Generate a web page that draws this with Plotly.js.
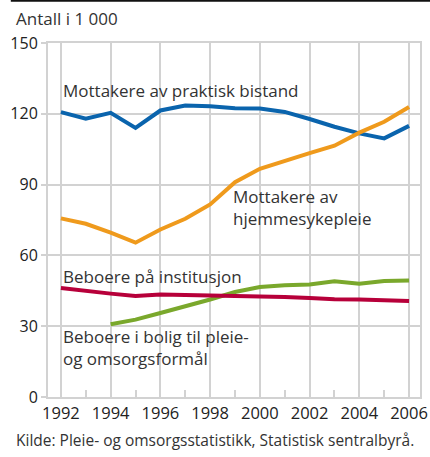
<!DOCTYPE html>
<html><head><meta charset="utf-8">
<script src="https://cdn.plot.ly/plotly-3.0.1.min.js"></script>
<style>html,body{margin:0;padding:0;background:#fff;}#chart{width:430px;height:457px;}</style>
</head><body><div id="chart"></div>
<script>
const years = [1992,1993,1994,1995,1996,1997,1998,1999,2000,2001,2002,2003,2004,2005,2006];
const praktiskBistand = [120.7,117.9,120.4,114.0,121.4,123.5,123.2,122.4,122.2,120.8,117.8,114.5,111.7,109.6,114.9];
const hjemmesykepleie = [75.7,73.4,69.6,65.4,71.0,75.5,81.6,91.0,96.7,99.8,103.3,106.5,112.0,116.6,122.9];
const institusjon = [46.2,44.9,43.8,42.8,43.4,43.2,43.0,43.1,42.8,42.4,42.0,41.4,41.3,41.0,40.7];
const boligYears = [1994,1995,1996,1997,1998,1999,2000,2001,2002,2003,2004,2005,2006];
const bolig = [30.8,32.8,35.6,38.4,41.3,44.5,46.6,47.3,47.7,49.0,48.0,49.2,49.4];
const seriesNames = ["Mottakere av praktisk bistand","Mottakere av hjemmesykepleie","Beboere på institusjon","Beboere i bolig til pleie- og omsorgsformål"];
const yTicks = [0,30,60,90,120,150];
const xTicks = [1992,1994,1996,1998,2000,2002,2004,2006];

const font = "'Open Sans', 'DejaVu Sans', sans-serif";
const grid = "#d2d2d2";
const lw = 4;
const traces = [
  {x: years, y: praktiskBistand, name: seriesNames[0], mode: "lines", line: {color: "#0a64ad", width: lw}},
  {x: years, y: hjemmesykepleie, name: seriesNames[1], mode: "lines", line: {color: "#ef9a1c", width: lw}},
  {x: boligYears, y: bolig, name: seriesNames[3], mode: "lines", line: {color: "#7aa82c", width: lw}},
  {x: years, y: institusjon, name: seriesNames[2], mode: "lines", line: {color: "#b7003a", width: lw}}
];
const annFont = {family: font, size: 17, color: "#333"};
const layout = {
  width: 430, height: 457,
  margin: {l: 48, r: 10, t: 43, b: 60},
  paper_bgcolor: "#fff", plot_bgcolor: "#fff",
  showlegend: false,
  font: {family: font, size: 16, color: "#222"},
  xaxis: {
    range: [1991.48, 2006.44], tickvals: xTicks, ticktext: xTicks.map(String),
    showgrid: true, gridcolor: grid, gridwidth: 2,
    showline: true, linecolor: grid, linewidth: 2, mirror: true,
    ticks: "", zeroline: false,
    tickfont: {family: font, size: 16.5, color: "#222"},
    minor: {dtick: 1, tick0: 1993, ticks: "inside", ticklen: 7, tickcolor: grid, tickwidth: 2, showgrid: false}
  },
  yaxis: {
    range: [0, 150], tickvals: yTicks,
    showgrid: true, gridcolor: grid, gridwidth: 2,
    showline: true, linecolor: grid, linewidth: 2, mirror: true,
    ticks: "outside", ticklen: 5, tickcolor: grid, tickwidth: 2,
    zeroline: false,
    tickfont: {family: font, size: 16, color: "#222"}
  },
  shapes: [
    {type: "line", xref: "paper", yref: "paper", x0: -0.1, x1: 1.03, y0: 1.1195, y1: 1.1195, line: {color: "#111", width: 2}}
  ],
  annotations: [
    {xref: "paper", yref: "paper", x: -0.092, y: 1.069, xanchor: "left", yanchor: "middle", showarrow: false, text: "Antall i 1 000", font: {family: font, size: 17, color: "#333"}},
    {x: 1992.0, y: 130, xanchor: "left", yanchor: "middle", showarrow: false, text: seriesNames[0], font: annFont},
    {x: 1998.85, y: 80.3, xanchor: "left", yanchor: "middle", align: "left", showarrow: false, text: "Mottakere av<br>hjemmesykepleie", font: annFont},
    {x: 1992.0, y: 51.2, xanchor: "left", yanchor: "middle", showarrow: false, text: seriesNames[2], font: annFont},
    {x: 1992.0, y: 20.9, xanchor: "left", yanchor: "middle", align: "left", showarrow: false, text: "Beboere i bolig til pleie-<br>og omsorgsformål", font: annFont},
    {xref: "paper", yref: "paper", x: -0.092, y: -0.121, xanchor: "left", yanchor: "middle", showarrow: false, text: "Kilde: Pleie- og omsorgsstatistikk, Statistisk sentralbyrå.", font: {family: font, size: 15.5, color: "#333"}}
  ]
};
Plotly.newPlot("chart", traces, layout, {displayModeBar: false, staticPlot: true});
</script></body></html>
